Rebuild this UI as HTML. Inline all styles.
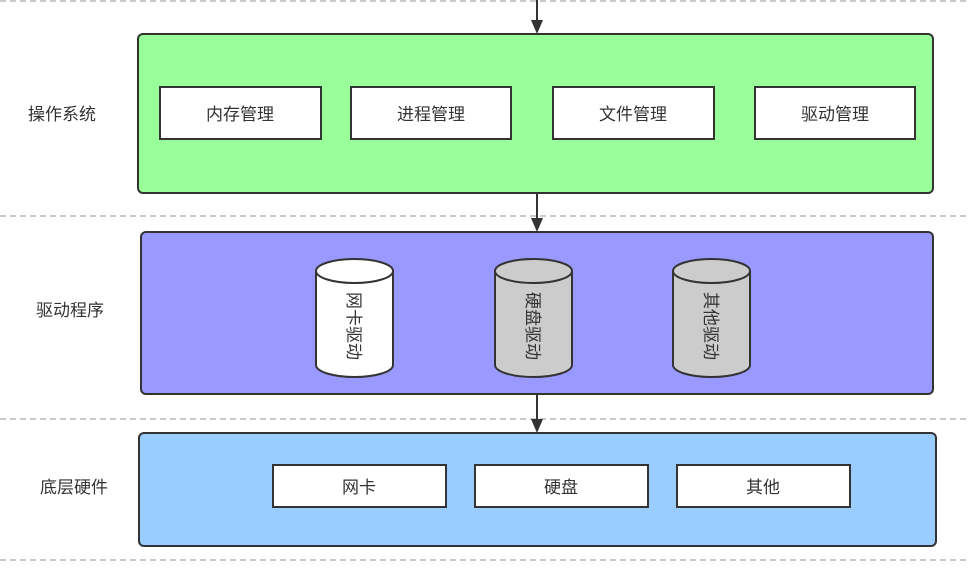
<!DOCTYPE html>
<html><head><meta charset="utf-8"><style>
body{margin:0;background:#fff;}
svg text{font-family:"Liberation Sans","Noto Sans CJK SC",sans-serif;font-size:17px;fill:#333;}
</style></head><body>
<svg width="968" height="580" xmlns="http://www.w3.org/2000/svg">
<g stroke="#aaa" stroke-width="1.3" stroke-dasharray="6,4">
<line x1="0" y1="1" x2="968" y2="1"/><line x1="0" y1="216" x2="968" y2="216"/>
<line x1="0" y1="419" x2="968" y2="419"/><line x1="0" y1="560" x2="968" y2="560"/>
</g>
<g stroke="#333" stroke-width="2">
<line x1="537" y1="0" x2="537" y2="24"/><line x1="537" y1="193" x2="537" y2="222"/><line x1="537" y1="394" x2="537" y2="423"/>
</g>
<g fill="#333"><path d="M531 20 L543 20 L537 34Z"/><path d="M531 218 L543 218 L537 232Z"/><path d="M531 419 L543 419 L537 433Z"/></g>
<rect x="138" y="34" width="795" height="159" rx="5" fill="#99ff99" stroke="#333" stroke-width="2"/>
<rect x="141" y="232" width="792" height="162" rx="5" fill="#9999ff" stroke="#333" stroke-width="2"/>
<rect x="139" y="433" width="797" height="113" rx="5" fill="#99ccff" stroke="#333" stroke-width="2"/>
<g fill="#fff" stroke="#333" stroke-width="2">
<rect x="160" y="87" width="161" height="52"/><rect x="351" y="87" width="160" height="52"/>
<rect x="553" y="87" width="161" height="52"/><rect x="755" y="87" width="160" height="52"/>
<rect x="273" y="465" width="173" height="42"/><rect x="475" y="465" width="173" height="42"/><rect x="677" y="465" width="173" height="42"/>
</g>
<g stroke="#333" stroke-width="2">
<path d="M316 271 L316 365 A38.5 12 0 0 0 393 365 L393 271" fill="#fff"/><ellipse cx="354.5" cy="271" rx="38.5" ry="12" fill="#fff"/>
<path d="M495 271 L495 365 A38.5 12 0 0 0 572 365 L572 271" fill="#ccc"/><ellipse cx="533.5" cy="271" rx="38.5" ry="12" fill="#ccc"/>
<path d="M673 271 L673 365 A38.5 12 0 0 0 750 365 L750 271" fill="#ccc"/><ellipse cx="711.5" cy="271" rx="38.5" ry="12" fill="#ccc"/>
</g>
<g text-anchor="middle">
<text x="62" y="120">操作系统</text><text x="70" y="316">驱动程序</text><text x="74" y="493">底层硬件</text>
<text x="240" y="120">内存管理</text><text x="431" y="120">进程管理</text><text x="633" y="120">文件管理</text><text x="835" y="120">驱动管理</text>
<text x="359" y="493">网卡</text><text x="561" y="493">硬盘</text><text x="763" y="493">其他</text>
<text transform="translate(354,326) rotate(90)" y="6">网卡驱动</text>
<text transform="translate(533,326) rotate(90)" y="6">硬盘驱动</text>
<text transform="translate(711,326) rotate(90)" y="6">其他驱动</text>
</g>
</svg>
</body></html>
